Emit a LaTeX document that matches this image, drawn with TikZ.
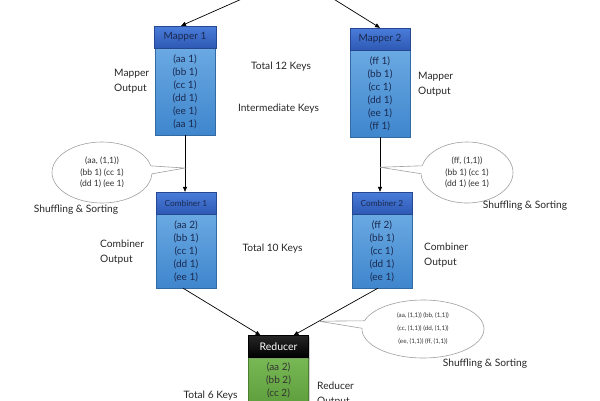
\documentclass[tikz,border=0pt]{standalone}
\usepackage{fontspec}
\setmainfont{Lato}
\usetikzlibrary{arrows.meta,shapes.callouts,shadows,calc}

\definecolor{hdrtop}{HTML}{4A7DDA}
\definecolor{hdrbot}{HTML}{2E59B4}
\definecolor{bodytop}{HTML}{6AA9E2}
\definecolor{bodybot}{HTML}{3F86CD}
\definecolor{greentop}{HTML}{78B855}
\definecolor{greenbot}{HTML}{5E9E3C}
\definecolor{boxtext}{HTML}{1A2950}
\definecolor{bubbleline}{HTML}{A0A0A0}

\begin{document}
\begin{tikzpicture}[x=1pt,y=-1pt,
  hdr/.style={draw=hdrbot!80!black, line width=0.3pt, top color=hdrtop, bottom color=hdrbot,
    minimum width=60pt, minimum height=22pt, inner sep=0pt, text=boxtext,
    font=\fontsize{10}{12}\selectfont,
    drop shadow={opacity=0.35, shadow xshift=1.2pt, shadow yshift=-1.2pt}},
  bodybox/.style={draw=bodybot!80!black, line width=0.3pt, top color=bodytop, bottom color=bodybot,
    minimum width=60pt, inner sep=0pt, align=center, text=boxtext,
    font=\fontsize{10}{13}\selectfont,
    drop shadow={opacity=0.35, shadow xshift=1.2pt, shadow yshift=-1.2pt}},
  lbl/.style={inner sep=0pt, align=left, text=black!85, font=\fontsize{10.2}{15}\selectfont},
  bubble/.style={ellipse callout, draw=bubbleline, line width=0.6pt, fill=white,
    inner sep=0pt, align=center, text=black!80},
  arr/.style={-{Triangle[length=5pt,width=4pt]}, line width=0.7pt, black}]

\path[use as bounding box, clip] (0,0) rectangle (600,400);

% mappers
\coordinate (in1) at (244,-2);
\coordinate (in2) at (332,-2);

\node[bodybox, minimum height=87pt] (map1out) at (185,91.5)
  {(aa 1)\\(bb 1)\\(cc 1)\\(dd 1)\\(ee 1)\\(aa 1)};
\node[hdr, minimum width=62pt] (map1) at (185,37) {Mapper 1};

\node[bodybox, minimum height=87pt] (map2out) at (380,93.5)
  {(ff 1)\\(bb 1)\\(cc 1)\\(dd 1)\\(ee 1)\\(ff 1)};
\node[hdr] (map2) at (380,39) {Mapper 2};

\draw[arr] (in1) -- ([xshift=-4pt]map1.north);
\draw[arr] (in2) -- (map2.north);

% combiners
\node[bodybox, minimum height=74pt] (com1out) at (186,251)
  {(aa 2)\\(bb 1)\\(cc 1)\\(dd 1)\\(ee 1)};
\node[hdr, font=\fontsize{8.3}{10}\selectfont] (com1) at (186,203) {Combiner 1};

\node[bodybox, minimum height=74pt] (com2out) at (382,251)
  {(ff 2)\\(bb 1)\\(cc 1)\\(dd 1)\\(ee 1)};
\node[hdr, font=\fontsize{8.3}{10}\selectfont] (com2) at (382,203) {Combiner 2};

\draw[arr] (map1out.south) -- (map1out.south |- com1.north);
\draw[arr] (map2out.south) -- (map2out.south |- com2.north);

% reducer
\node[bodybox, minimum height=47pt, top color=greentop, bottom color=greenbot,
  draw=greenbot!80!black, text=black!80] (redout) at (278.5,380.5)
  {(aa 2)\\(bb 2)\\(cc 2)};
\node[hdr, fill=black, top color=black!85, bottom color=black, draw=black,
  text=white, font=\fontsize{10.5}{12}\selectfont] (red) at (278.5,346.5) {Reducer};

\draw[arr] ([xshift=-3pt]com1out.south) -- ([xshift=-18pt]red.north);
\draw[arr] ([xshift=-4pt]com2out.south) -- ([xshift=15pt]red.north);

% shuffle bubbles
\node[bubble, minimum width=100pt, minimum height=61pt, font=\fontsize{8.6}{11.5}\selectfont,
  callout absolute pointer={($(map1out.south)!0.58!(map1out.south |- com1.north)$)}]
  (shuf1) at (102,172.5) {(aa, (1,1))\\(bb 1) (cc 1)\\(dd 1) (ee 1)};
\node[bubble, minimum width=92pt, minimum height=61pt, font=\fontsize{8.6}{11.5}\selectfont,
  callout absolute pointer={($(map2out.south)!0.55!(map2out.south |- com2.north)$)}]
  (shuf2) at (467,172.5) {(ff, (1,1))\\(bb 1) (cc 1)\\(dd 1) (ee 1)};
\node[bubble, minimum width=122pt, minimum height=58pt, font=\fontsize{6.3}{13}\selectfont,
  callout absolute pointer={($([xshift=-4pt]com2out.south)!0.70!([xshift=15pt]red.north)$)}]
  (shuf3) at (423,329) {(aa, (1,1)) (bb, (1,1))\\(cc, (1,1)) (dd, (1,1))\\(ee, (1,1)) (ff, (1,1))};

% labels
\node[lbl, anchor=west] (map1lbl) at (114,81.5) {Mapper\\Output};
\node[lbl] (keys12) at (281,67) {Total 12 Keys};
\node[lbl] (interkeys) at (278.5,109) {Intermediate Keys};
\node[lbl, anchor=west] (map2lbl) at (418,84.5) {Mapper\\Output};
\node[lbl] (shuf1lbl) at (76,210) {Shuffling \& Sorting};
\node[lbl] (shuf2lbl) at (525,206) {Shuffling \& Sorting};
\node[lbl, anchor=west] (com1lbl) at (100,252.5) {Combiner\\Output};
\node[lbl] (keys10) at (272.5,249) {Total 10 Keys};
\node[lbl, anchor=west] (com2lbl) at (424,255.5) {Combiner\\Output};
\node[lbl] (shuf3lbl) at (485,364) {Shuffling \& Sorting};
\node[lbl] (keys6) at (210.5,396) {Total 6 Keys};
\node[lbl, anchor=west] (redlbl) at (317,394.5) {Reducer\\Output};

\end{tikzpicture}
\end{document}
